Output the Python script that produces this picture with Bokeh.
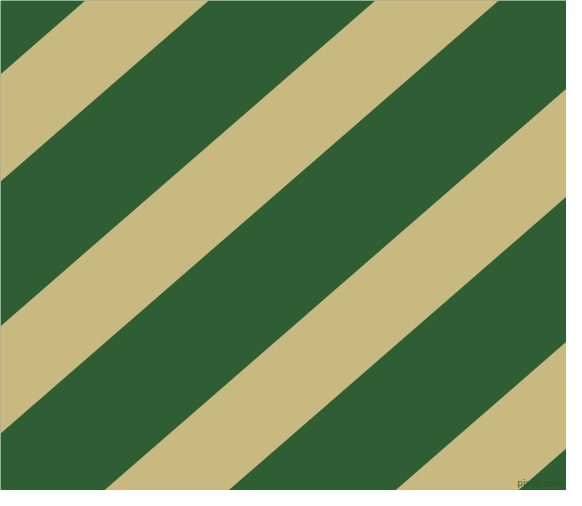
from bokeh.plotting import figure
from bokeh.models import Range1d
from bokeh.embed import file_html
from bokeh.resources import INLINE
from bokeh.core.properties import value

# Image geometry (reference pixel space)
img_w = 582
img_h = 506
# Stripe boundary lines: y = c - slope * x  (y measured downward)
slope = 0.869  # tan(41 deg)
stripe_start = [73.7, 325.7, 580.0, 833.0]
stripe_end = [181.0, 433.0, 688.0, 939.7]
green = "#2F5E35"
beige = "#C8B981"
mark_text = ["pixlis.com"]

# The page has an 8px margin, so the frame shows the reference at 1:1 scale
W, H = img_w - 16, img_h - 16
p = figure(width=W, height=H, output_backend="svg", toolbar_location=None,
           x_range=Range1d(0, W), y_range=Range1d(H, 0),
           min_border=0, min_border_left=0, min_border_right=0,
           min_border_top=0, min_border_bottom=0)
p.axis.visible = False
p.grid.visible = False
p.outline_line_color = None
p.background_fill_color = green
p.border_fill_color = green

x0, x1 = -20, img_w + 20
xs, ys = [], []
for c1, c2 in zip(stripe_start, stripe_end):
    xs.append([x0, x1, x1, x0])
    ys.append([c1 - slope * x0, c1 - slope * x1, c2 - slope * x1, c2 - slope * x0])
p.patches(xs, ys, fill_color=beige, line_color=None)

p.text(x=[W - 4], y=[H - 8], text=mark_text, text_align="right", text_baseline="middle",
       text_font=value("DejaVu Sans"), text_font_size="9px", text_color="#25502C",
       text_alpha=0.9)

open("out.html", "w").write(file_html(p, INLINE))
